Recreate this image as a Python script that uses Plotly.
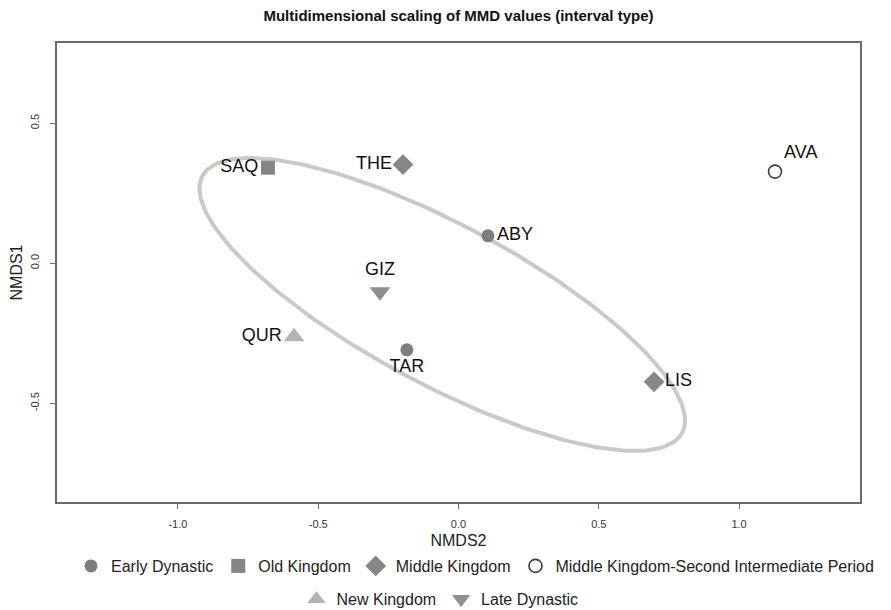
import numpy as np
import plotly.graph_objects as go

# ---- data ----
sites = ["ABY", "TAR", "SAQ", "THE", "LIS", "AVA", "QUR", "GIZ"]
nmds2 = [0.105, -0.184, -0.679, -0.198, 0.697, 1.128, -0.586, -0.280]   # x
nmds1 = [0.098, -0.309, 0.341, 0.352, -0.423, 0.327, -0.262, -0.102]    # y
groups = ["Early Dynastic", "Early Dynastic", "Old Kingdom", "Middle Kingdom",
          "Middle Kingdom", "Middle Kingdom-Second Intermediate Period",
          "New Kingdom", "Late Dynastic"]
label_pos = ["middle right", "bottom center", "middle left", "middle left",
             "middle right", "top right", "middle left", "top center"]

group_order = ["Early Dynastic", "Old Kingdom", "Middle Kingdom",
               "Middle Kingdom-Second Intermediate Period",
               "New Kingdom", "Late Dynastic"]
legend_row = {"Early Dynastic": "legend", "Old Kingdom": "legend",
              "Middle Kingdom": "legend",
              "Middle Kingdom-Second Intermediate Period": "legend",
              "New Kingdom": "legend2", "Late Dynastic": "legend2"}
group_symbol = {"Early Dynastic": "circle", "Old Kingdom": "square",
                "Middle Kingdom": "diamond",
                "Middle Kingdom-Second Intermediate Period": "circle-open",
                "New Kingdom": "triangle-up", "Late Dynastic": "triangle-down"}
group_color = {"Early Dynastic": "#7d7d7d", "Old Kingdom": "#858585",
               "Middle Kingdom": "#878787",
               "Middle Kingdom-Second Intermediate Period": "#3a3a3a",
               "New Kingdom": "#b4b4b4", "Late Dynastic": "#8f8f8f"}
group_size = {"Early Dynastic": 13, "Old Kingdom": 14, "Middle Kingdom": 16,
              "Middle Kingdom-Second Intermediate Period": 13,
              "New Kingdom": 18, "Late Dynastic": 18}

# ellipse parameters (centre, semi-axes, rotation)
ell_cx, ell_cy = -0.058, -0.147
ell_a, ell_b = 0.970, 0.285
ell_angle_deg = -28.2

NARROW = "Liberation Sans Narrow, Arial Narrow, Liberation Sans, sans-serif"

# page body has an 8px margin: size the figure so it fills the window
W, H = 883, 602

# ---- figure ----
fig = go.Figure()

t = np.linspace(0, 2 * np.pi, 241)
th = np.deg2rad(ell_angle_deg)
ex = ell_cx + ell_a * np.cos(t) * np.cos(th) - ell_b * np.sin(t) * np.sin(th)
ey = ell_cy + ell_a * np.cos(t) * np.sin(th) + ell_b * np.sin(t) * np.cos(th)
fig.add_trace(go.Scatter(x=ex, y=ey, mode="lines",
                         line=dict(color="#c9c9c9", width=4),
                         showlegend=False, hoverinfo="skip"))

for g in group_order:
    idx = [i for i, gg in enumerate(groups) if gg == g]
    sym = group_symbol[g]
    col = group_color[g]
    marker = dict(symbol=sym, size=group_size[g], color=col)
    if sym.endswith("open"):
        marker["line"] = dict(color=col, width=1.6)
    fig.add_trace(go.Scatter(
        x=[nmds2[i] for i in idx], y=[nmds1[i] for i in idx],
        mode="markers+text", name=g, legend=legend_row[g],
        text=[sites[i] for i in idx],
        textposition=[label_pos[i] for i in idx],
        textfont=dict(family="Liberation Sans, Arial, sans-serif", size=18, color="#111"),
        marker=marker))

axis_common = dict(showgrid=False, zeroline=False, showline=True, mirror=True,
                   linecolor="#6a6a6a", linewidth=1.5, ticks="outside",
                   ticklen=5, tickcolor="#6a6a6a", automargin=False,
                   tickfont=dict(family=NARROW, size=11, color="#333"))

legend_common = dict(orientation="h", xref="container", xanchor="center",
                     yref="container", yanchor="middle",
                     font=dict(family=NARROW, size=16, color="#222"),
                     itemwidth=30, bgcolor="rgba(0,0,0,0)",
                     itemclick=False, itemdoubleclick=False)

fig.update_layout(
    width=W, height=H,
    margin=dict(l=49, r=31, t=35, b=108),
    paper_bgcolor="white", plot_bgcolor="white",
    title=dict(text="<b>Multidimensional scaling of MMD values (interval type)</b>",
               x=0.5, xanchor="center", xref="paper", y=1 - 8 / H, yanchor="middle",
               font=dict(family=NARROW, size=15, color="#111")),
    xaxis=dict(range=[-1.431, 1.431], tickvals=[-1.0, -0.5, 0.0, 0.5, 1.0],
               ticktext=["-1.0", "-0.5", "0.0", "0.5", "1.0"],
               ticklabelstandoff=6,
               title=dict(text="NMDS2", standoff=8,
                          font=dict(family=NARROW, size=16, color="#222")),
               **axis_common),
    yaxis=dict(range=[-0.852, 0.786], tickvals=[-0.5, 0.0, 0.5],
               ticktext=["-0.5", "0.0", "0.5"], tickangle=-90,
               ticklabelstandoff=7,
               title=dict(text="NMDS1", standoff=3,
                          font=dict(family=NARROW, size=16, color="#222")),
               **axis_common),
    legend=dict(x=467 / W, y=(H - 558) / H, **legend_common),
    legend2=dict(x=432 / W, y=(H - 591) / H, **legend_common),
)

fig.write_html("out.html")
